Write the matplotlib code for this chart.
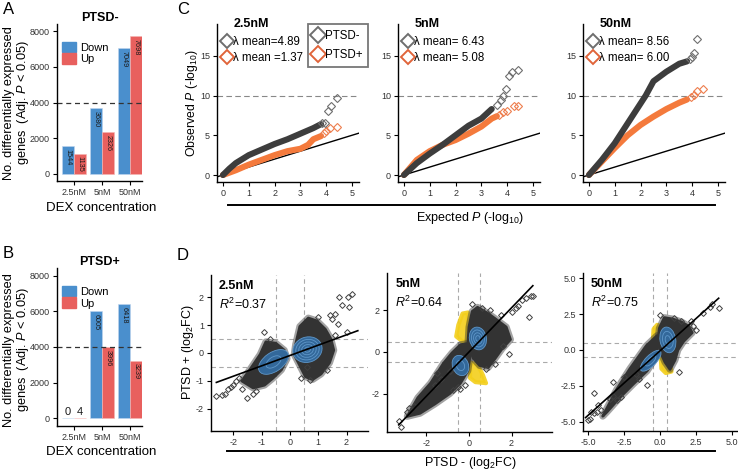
import matplotlib
matplotlib.use("Agg")
import matplotlib.pyplot as plt
import numpy as np
from matplotlib.patches import Patch, Polygon, Ellipse
from matplotlib.lines import Line2D

plt.rcParams['font.family'] = ['Liberation Sans', 'DejaVu Sans']
plt.rcParams['mathtext.fontset'] = 'custom'
plt.rcParams['mathtext.rm'] = 'Liberation Sans'
plt.rcParams['mathtext.it'] = 'Liberation Sans:italic'
plt.rcParams['axes.unicode_minus'] = False

# ---- data: panels A / B (DEG counts) ----
doses = ["2.5nM", "5nM", "50nM"]
ptsd_neg_down = [1544, 3680, 7049]
ptsd_neg_up = [1135, 2326, 7698]
ptsd_pos_down = [0, 6005, 6418]
ptsd_pos_up = [4, 3996, 3239]

# ---- data: panel C (QQ curves) ----
qq_titles = ["2.5nM", "5nM", "50nM"]
qq_lambda_neg = ["λ mean=4.89", "λ mean= 6.43", "λ mean= 8.56"]
qq_lambda_pos = ["λ mean =1.37", "λ mean= 5.08", "λ mean= 6.00"]
qq_grey_x = [[0, 0.25, 0.5, 1, 1.5, 2, 2.5, 3, 3.5, 3.8],
             [0, 0.5, 1, 1.5, 2, 2.5, 3, 3.4],
             [0, 0.5, 1, 1.5, 2, 2.2, 2.5, 3, 3.5, 3.8]]
qq_grey_y = [[0, 0.8, 1.5, 2.5, 3.2, 3.9, 4.5, 5.2, 5.9, 6.4],
             [0, 1.5, 2.7, 3.8, 5.0, 6.2, 7.1, 8.3],
             [0, 1.9, 4.0, 6.5, 9.0, 10.0, 11.8, 13.0, 14.0, 14.3]]
qq_grey_out_x = [[3.85, 3.95, 4.05, 4.2, 4.42],
                 [3.6, 3.75, 3.85, 3.95, 4.05, 4.2, 4.4],
                 [3.9, 4.0, 4.05, 4.2]]
qq_grey_out_y = [[6.5, 6.6, 8.0, 8.7, 9.7],
                 [8.8, 9.5, 10.0, 10.8, 12.4, 12.9, 13.2],
                 [14.6, 14.9, 15.4, 17.1]]
qq_orange_x = [[0, 0.5, 1, 1.5, 2, 2.5, 3, 3.3, 3.5, 3.8],
               [0, 0.5, 1, 1.5, 2, 2.5, 3, 3.4, 3.6],
               [0, 0.5, 1, 1.5, 2, 2.5, 3, 3.5, 3.8]]
qq_orange_y = [[0, 0.6, 1.3, 1.9, 2.5, 3.0, 3.3, 3.8, 4.5, 4.9],
               [0, 1.9, 3.0, 3.8, 4.4, 5.2, 6.1, 7.1, 7.4],
               [0, 1.7, 3.4, 5.0, 6.3, 7.35, 8.3, 9.1, 9.5]]
qq_orange_out_x = [[3.9, 4.0, 4.15, 4.42],
                   [3.7, 3.85, 4.0, 4.25, 4.42],
                   [3.95, 4.05, 4.2, 4.42]]
qq_orange_out_y = [[5.3, 5.5, 5.9, 6.0],
                   [7.6, 7.9, 8.0, 8.7, 8.7],
                   [9.8, 10.1, 10.6, 10.8]]

# ---- data: panel D (fold change scatter, clouds) ----
fc_titles = ["2.5nM", "5nM", "50nM"]
fc_r2 = ["0.37", "0.64", "0.75"]
fc_slope = [0.37, 1.063, 0.892]
fc_intercept = [-0.09, 0.0, -0.06]
fc_line_x = [(-2.6, 2.4), (-3.3, 3.0), (-5.2, 4.1)]
fc_clouds = [
    [[(-1.7, -1.0), (-1.35, -0.5), (-1.05, -0.05), (-0.85, 0.4), (-0.5, 0.35), (-0.2, 0.1),
      (-0.1, -0.2), (-0.3, -0.6), (-0.6, -0.9), (-0.9, -1.15), (-1.3, -1.25)],
     [(0.2, 0.3), (0.35, 0.95), (0.65, 1.25), (0.95, 1.15), (1.25, 0.85), (1.45, 0.5), (1.55, 0.1),
      (1.4, -0.35), (1.1, -0.75), (0.8, -0.95), (0.55, -0.85), (0.35, -0.45), (0.15, -0.05)]],
    [[(-2.9, -3.1), (-2.4, -2.2), (-1.8, -1.5), (-1.2, -0.55), (-0.8, -0.05), (-0.4, 0.35),
      (-0.1, 0.4), (0.05, -0.2), (-0.05, -0.9), (-0.4, -1.5), (-0.9, -2.0), (-1.6, -2.5),
      (-2.3, -2.95)],
     [(-0.05, 0.4), (0.0, 1.2), (0.15, 1.95), (0.4, 2.15), (0.9, 1.85), (1.3, 1.55), (1.75, 1.2),
      (1.95, 0.6), (1.55, 0.15), (1.2, -0.35), (0.9, -0.75), (0.5, -0.65), (0.2, -0.3)]],
    [[(-4.0, -4.6), (-3.0, -2.7), (-2.1, -1.3), (-0.95, 0.3), (-0.2, 1.0), (-0.25, -0.46),
      (-0.9, -1.45), (-1.9, -2.4), (-2.8, -3.3), (-3.7, -4.3)],
     [(-0.15, 0.5), (-0.05, 1.5), (0.3, 2.25), (0.9, 2.15), (1.5, 1.95), (2.0, 1.65), (2.25, 1.2),
      (1.65, 0.6), (1.25, 0.0), (1.05, -0.7), (0.7, -1.35), (0.35, -0.85), (0.05, -0.2)]],
]
fc_yellow = [
    [],
    [[(-0.6, 0.75), (-0.5, 1.3), (-0.3, 1.85), (-0.05, 1.9), (-0.05, 0.55), (-0.3, 0.5)],
     [(0.05, -0.5), (0.05, -1.25), (0.3, -1.45), (0.8, -1.5), (0.65, -1.1), (0.4, -0.6)]],
    [[(-0.5, 0.65), (-0.45, 1.45), (-0.2, 1.75), (0.05, 1.65), (0.05, 0.6)],
     [(0.05, -0.5), (0.1, -1.3), (0.4, -1.6), (0.8, -1.5), (0.7, -0.85), (0.4, -0.5)]],
]
fc_out_x = [
    [-2.6, -2.4, -2.3, -2.2, -2.1, -1.9, -1.5, -1.7, -1.8, -0.9, -0.7, -1.3, 1.75, 2.05, 2.2,
     2.1, 1.85, 1.4, 1.7, 1.6, 2.0, 1.6, 1.3, 0.7, 0.6, 0.4, 1.0, -2.0, -1.2, 1.5],
    [-3.3, -3.2, -2.8, -2.6, -2.9, -1.5, -1.3, -1.6, -0.9, -0.4, -0.5, -0.2, -0.75, 0.15, 0.6,
     1.0, 1.5, 2.2, 2.0, 2.5, 2.8, 2.9, 3.0, 2.3, 1.6, 1.9, 1.2, 0.8, 2.7],
    [-5.0, -4.9, -4.6, -4.8, -4.4, -4.6, -4.3, -4.1, -3.5, -3.3, -3.0, -2.7, -3.3, -2.5, -1.7,
     -1.5, -0.9, 0.0, 1.0, 1.5, 2.3, 2.2, 3.0, 3.5, 4.1, 3.6, 1.3, 2.5],
]
fc_out_y = [
    [-1.55, -1.5, -1.45, -1.3, -1.2, -1.0, -1.6, -1.3, -0.9, 0.75, 0.5, -1.45, 2.0, 2.0, 2.1,
     1.65, 1.7, 1.35, 1.05, 1.4, 0.75, 0.65, -0.6, -0.95, -0.5, -0.9, 1.3, -1.15, -1.35, 1.2],
    [-3.3, -3.6, -2.7, -2.6, -2.9, -1.0, -1.3, -1.6, -0.9, -1.8, -1.7, -1.6, -1.85, 2.3, 2.1,
     2.0, 1.8, 2.1, 1.9, 2.5, 1.7, 2.7, 2.7, 2.2, 0.3, -0.1, -0.6, -0.8, 2.6],
    [-4.9, -4.8, -4.4, -4.3, -4.3, -3.0, -3.8, -4.2, -3.4, -3.2, -3.5, -3.3, -2.2, -1.9, -1.7,
     -2.0, -2.4, 2.4, 2.2, 2.0, 1.7, 2.0, 2.6, 3.0, 2.9, 3.2, -1.5, 1.4],
]
# density blobs: (x, y, width, height, angle, rings)
fc_blobs = [
    [(-0.58, -0.32, 1.2, 0.68, 35, 2), (0.62, 0.12, 1.05, 0.9, 20, 5)],
    [(-0.4, -0.65, 0.75, 1.0, 20, 2), (0.42, 0.65, 0.8, 1.1, 10, 4)],
    [(-0.65, -0.75, 1.9, 0.75, 45, 2), (0.55, 0.7, 1.1, 1.8, 10, 3)],
]

W, H = 738, 472
fig = plt.figure(figsize=(W / 100, H / 100), dpi=100)


def add_ax(l, t, r, b):
    ax = fig.add_axes([l / W, 1 - b / H, (r - l) / W, (b - t) / H])
    for s in ["top", "right"]:
        ax.spines[s].set_visible(False)
    for s in ["left", "bottom"]:
        ax.spines[s].set_linewidth(1.0)
    ax.tick_params(labelsize=6.5, length=3, width=0.8, pad=2, colors="black",
                   labelcolor="#333333")
    return ax


def ftext(x, y, s, **kw):
    fig.text(x / W, 1 - y / H, s, **kw)


blue = "#4A8FCD"
red = "#E8605E"

# ---- panels A and B ----
for (top, bot, title, down, up) in [(24, 181, "PTSD-", ptsd_neg_down, ptsd_neg_up),
                                     (268, 426, "PTSD+", ptsd_pos_down, ptsd_pos_up)]:
    ax = add_ax(57, top, 142, bot)
    pos = np.arange(1, 4)
    ax.bar(pos - 0.22, down, width=0.41, color=blue, edgecolor="#BFD6EE", linewidth=0.4)
    ax.bar(pos + 0.22, up, width=0.41, color=red, edgecolor="#F5B5B3", linewidth=0.4)
    for xs, vals in [(pos - 0.22, down), (pos + 0.22, up)]:
        for x, v in zip(xs, vals):
            if v > 100:
                ax.text(x, v - 150, str(v), rotation=270, ha="center", va="top",
                        fontsize=5.2, color="#1a1a1a")
            else:
                ax.text(x, 350, str(v), ha="center", va="center", fontsize=8, color="#1a1a1a")
    ax.axhline(4000, color="#333333", lw=0.9, ls=(0, (4, 3)))
    if title == "PTSD-":
        ax.set_ylim(-392, 8392)
    else:
        ax.set_ylim(-450, 8450)
    ax.set_xlim(0.393, 3.43)
    ax.set_yticks([0, 2000, 4000, 6000, 8000])
    ax.set_xticks(pos)
    ax.set_xticklabels(doses)
    ax.set_title(title, fontsize=9, fontweight="bold", pad=1)
    ax.legend(handles=[Patch(color=blue, label="Down"), Patch(color=red, label="Up")],
              loc="upper left", bbox_to_anchor=(-0.02, 0.93), frameon=False, fontsize=8,
              handlelength=1.3, handleheight=1.1, handletextpad=0.3, labelspacing=0.05,
              borderaxespad=0.2)

ylab = "No. differentially expressed\ngenes  (Adj. $\\it{P}$ < 0.05)"
ftext(17, 103, ylab, rotation=90, ha="center", va="center", fontsize=9.2, linespacing=1.05)
ftext(17, 350, ylab, rotation=90, ha="center", va="center", fontsize=9.2, linespacing=1.05)
ftext(101, 208, "DEX concentration", ha="center", va="center", fontsize=9.5)
ftext(101, 452, "DEX concentration", ha="center", va="center", fontsize=9.5)

# ---- panel C ----
grey_band = "#3D3D3D"
grey_mk = "#6E6E6E"
orange_band = "#F47A3C"
orange_mk = "#EE7E4E"
c_lefts = [217, 398, 583]
for i, l in enumerate(c_lefts):
    ax = add_ax(l, 24, l + 142, 182)
    ax.set_xlim(-0.23, 5.27)
    ax.set_ylim(-0.88, 19.0)
    ax.axhline(10, color="#888888", lw=0.8, ls=(0, (5, 3)))
    ax.plot([-0.23, 5.27], [-0.23, 5.27], color="black", lw=1.0)
    ax.plot(qq_orange_x[i], qq_orange_y[i], color=orange_band, lw=4.4,
            solid_capstyle="round", solid_joinstyle="round")
    ax.plot(qq_grey_x[i], qq_grey_y[i], color=grey_band, lw=4.4,
            solid_capstyle="round", solid_joinstyle="round")
    ax.plot(qq_orange_out_x[i], qq_orange_out_y[i], ls="none", marker="D", ms=4.5,
            mfc="none", mec=orange_mk, mew=0.8)
    ax.plot(qq_grey_out_x[i], qq_grey_out_y[i], ls="none", marker="D", ms=4.5,
            mfc="none", mec=grey_mk, mew=0.8)
    ax.set_xticks([0, 1, 2, 3, 4, 5])
    ax.set_yticks([0, 5, 10, 15])
    ax.text(0.12, 1.0, qq_titles[i], transform=ax.transAxes, fontsize=9, fontweight="bold",
            va="center", ha="left")
    h1 = Line2D([], [], ls="none", marker="D", ms=7, mfc="none", mec=grey_mk, mew=1.4)
    h2 = Line2D([], [], ls="none", marker="D", ms=7, mfc="none", mec="#E0643A", mew=1.4)
    lg = ax.legend([h1, h2], [qq_lambda_neg[i], qq_lambda_pos[i]], loc="upper left",
                   bbox_to_anchor=(-0.01, 0.97), frameon=False, fontsize=8.3,
                   handlelength=0.8, handletextpad=0.15, labelspacing=0.35, borderaxespad=0.2)
    if i == 0:
        ax.add_artist(lg)
        h3 = Line2D([], [], ls="none", marker="D", ms=8, mfc="none", mec=grey_mk, mew=1.4)
        h4 = Line2D([], [], ls="none", marker="D", ms=8, mfc="none", mec="#E0643A", mew=1.4)
        lg2 = ax.legend([h3, h4], ["PTSD-", "PTSD+"], loc="upper left",
                        bbox_to_anchor=((308 - l) / 142, 1.0), frameon=True, fontsize=8.3,
                        handlelength=0.8, handletextpad=0.15, labelspacing=0.65,
                        borderpad=0.5, fancybox=False, borderaxespad=0)
        lg2.get_frame().set_edgecolor("#555555")
        lg2.get_frame().set_linewidth(1.3)

ftext(192, 103, "Observed $\\it{P}$ (-log$_{10}$)", rotation=90, ha="center", va="center",
      fontsize=8.8)
fig.add_artist(Line2D([228 / W, 715 / W], [1 - 205 / H, 1 - 205 / H], color="black", lw=1.4))
ftext(470, 218, "Expected $\\it{P}$ (-log$_{10}$)", ha="center", va="center", fontsize=9)

# ---- panel D ----
d_boxes = [(211, 275, 368, 431), (387, 273, 552, 432), (583, 273, 737, 431)]
d_xlim = [(-2.79, 2.76), (-3.85, 3.9), (-5.38, 5.38)]
d_ylim = [(-2.79, 2.79), (-3.85, 3.8), (-5.63, 5.35)]
d_ticks = [[-2, -1, 0, 1, 2], [-2, 0, 2], [-5, -2.5, 0, 2.5, 5]]
cloud_c = "#333333"
yellow = "#F3CF1B"
blob_fill = "#33689A"
blob_ring = "#5F97C9"
for i, (l, t, r, b) in enumerate(d_boxes):
    ax = add_ax(l, t, r, b)
    ax.set_xlim(*d_xlim[i])
    ax.set_ylim(*d_ylim[i])
    for v in (-0.5, 0.5):
        ax.axvline(v, color="#AAAAAA", lw=0.8, ls=(0, (4, 3)), zorder=1)
        ax.axhline(v, color="#AAAAAA", lw=0.8, ls=(0, (4, 3)), zorder=1)
    for poly in fc_yellow[i]:
        ax.add_patch(Polygon(poly, closed=True, fc=yellow, ec=yellow, lw=3,
                             joinstyle="round", alpha=0.9, zorder=2))
    for poly in fc_clouds[i]:
        ax.add_patch(Polygon(poly, closed=True, fc="none", ec=cloud_c, lw=5,
                             joinstyle="round", alpha=0.45, zorder=3))
        ax.add_patch(Polygon(poly, closed=True, fc=cloud_c, ec=cloud_c, lw=2,
                             joinstyle="round", zorder=3))
    ax.plot(fc_out_x[i], fc_out_y[i], ls="none", marker="D", ms=3, mfc="none",
            mec="#404040", mew=0.7, zorder=3)
    for (cx, cy, w, h, ang, rings) in fc_blobs[i]:
        ax.add_patch(Ellipse((cx, cy), w, h, angle=ang, fc=blob_fill, ec="none", zorder=4))
        for k in range(rings):
            f = 1 - k / rings
            ax.add_patch(Ellipse((cx, cy), w * f, h * f, angle=ang, fc="none",
                                 ec=blob_ring, lw=0.6, zorder=5))
    lx = np.array(fc_line_x[i])
    ax.plot(lx, fc_slope[i] * lx + fc_intercept[i], color="black", lw=1.2, zorder=6)
    ax.set_xticks(d_ticks[i])
    ax.set_yticks(d_ticks[i])
    if i == 2:
        ax.set_xticklabels(["%.1f" % v for v in d_ticks[i]])
        ax.set_yticklabels(["%.1f" % v for v in d_ticks[i]])
    ax.text(0.05, 0.97, fc_titles[i], transform=ax.transAxes, fontsize=9,
            fontweight="bold", va="top", ha="left")
    ax.text(0.05, 0.86, "$\\it{R}^2$=" + fc_r2[i], transform=ax.transAxes, fontsize=9,
            va="top", ha="left")

ftext(188, 352, "PTSD + (log$_2$FC)", rotation=90, ha="center", va="center", fontsize=9)
fig.add_artist(Line2D([227 / W, 715 / W], [1 - 451 / H, 1 - 451 / H], color="black", lw=1.4))
ftext(470, 463, "PTSD - (log$_2$FC)", ha="center", va="center", fontsize=9)

# panel letters
for letter, x, y in [("A", 3, 10), ("B", 3, 254), ("C", 177, 9), ("D", 177, 255)]:
    ftext(x, y, letter, ha="left", va="center", fontsize=12)

fig.savefig("out.png", dpi=100)
